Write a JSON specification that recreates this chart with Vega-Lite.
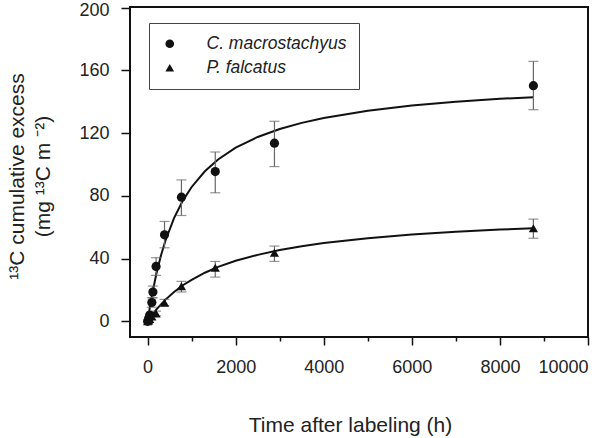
{
  "$schema": "https://vega.github.io/schema/vega-lite/v6.json",
  "autosize": "none",
  "width": 458,
  "height": 330,
  "padding": {"left": 130, "top": 7, "right": 23, "bottom": 101},
  "background": "white",
  "config": {
    "view": {"stroke": "#111", "strokeWidth": 2},
    "axis": {
      "domain": false, "grid": false, "tickColor": "#111", "tickWidth": 1.5,
      "labelFont": "Liberation Sans", "labelFontSize": 18, "labelColor": "#222",
      "titleFont": "Liberation Sans", "titleFontSize": 21, "titleFontWeight": "normal", "titleColor": "#222"
    }
  },
  "datasets": {
    "pts": [
      {"series": "C. macrostachyus", "t": 0, "v": 0, "lo": null, "hi": null},
      {"series": "C. macrostachyus", "t": 24, "v": 2, "lo": null, "hi": null},
      {"series": "C. macrostachyus", "t": 48, "v": 4, "lo": null, "hi": null},
      {"series": "C. macrostachyus", "t": 96, "v": 12, "lo": 9, "hi": 15},
      {"series": "C. macrostachyus", "t": 120, "v": 18.7, "lo": 15, "hi": 22.5},
      {"series": "C. macrostachyus", "t": 192, "v": 35, "lo": 29.3, "hi": 40.6},
      {"series": "C. macrostachyus", "t": 384, "v": 55.2, "lo": 46.9, "hi": 63.7},
      {"series": "C. macrostachyus", "t": 768, "v": 79.2, "lo": 67.5, "hi": 90.2},
      {"series": "C. macrostachyus", "t": 1536, "v": 95.5, "lo": 82, "hi": 108},
      {"series": "C. macrostachyus", "t": 2880, "v": 113.6, "lo": 98.7, "hi": 127.6},
      {"series": "C. macrostachyus", "t": 8760, "v": 150.3, "lo": 135, "hi": 165.8},
      {"series": "P. falcatus", "t": 0, "v": 0, "lo": null, "hi": null},
      {"series": "P. falcatus", "t": 24, "v": 0.5, "lo": null, "hi": null},
      {"series": "P. falcatus", "t": 48, "v": 1.5, "lo": null, "hi": null},
      {"series": "P. falcatus", "t": 96, "v": 3, "lo": null, "hi": null},
      {"series": "P. falcatus", "t": 192, "v": 5, "lo": 3.5, "hi": 6.5},
      {"series": "P. falcatus", "t": 384, "v": 11.9, "lo": 10, "hi": 14},
      {"series": "P. falcatus", "t": 768, "v": 22.3, "lo": 18.7, "hi": 25.5},
      {"series": "P. falcatus", "t": 1536, "v": 34.2, "lo": 28.2, "hi": 38.2},
      {"series": "P. falcatus", "t": 2880, "v": 43.7, "lo": 38.2, "hi": 48},
      {"series": "P. falcatus", "t": 8760, "v": 59.4, "lo": 53, "hi": 65.2}
    ],
    "fit": [
      {"series": "C. macrostachyus", "t": 0, "v": 0},
      {"series": "C. macrostachyus", "t": 50, "v": 8.9},
      {"series": "C. macrostachyus", "t": 100, "v": 16.9},
      {"series": "C. macrostachyus", "t": 200, "v": 30.5},
      {"series": "C. macrostachyus", "t": 300, "v": 41.7},
      {"series": "C. macrostachyus", "t": 400, "v": 51.1},
      {"series": "C. macrostachyus", "t": 600, "v": 65.8},
      {"series": "C. macrostachyus", "t": 800, "v": 77.0},
      {"series": "C. macrostachyus", "t": 1000, "v": 85.7},
      {"series": "C. macrostachyus", "t": 1300, "v": 95.7},
      {"series": "C. macrostachyus", "t": 1600, "v": 103.2},
      {"series": "C. macrostachyus", "t": 2000, "v": 110.8},
      {"series": "C. macrostachyus", "t": 2500, "v": 117.6},
      {"series": "C. macrostachyus", "t": 3000, "v": 122.7},
      {"series": "C. macrostachyus", "t": 3500, "v": 126.6},
      {"series": "C. macrostachyus", "t": 4000, "v": 129.7},
      {"series": "C. macrostachyus", "t": 5000, "v": 134.3},
      {"series": "C. macrostachyus", "t": 6000, "v": 137.6},
      {"series": "C. macrostachyus", "t": 7000, "v": 140.0},
      {"series": "C. macrostachyus", "t": 8000, "v": 141.9},
      {"series": "C. macrostachyus", "t": 8760, "v": 143.0},
      {"series": "P. falcatus", "t": 0, "v": 0},
      {"series": "P. falcatus", "t": 100, "v": 4.0},
      {"series": "P. falcatus", "t": 200, "v": 7.6},
      {"series": "P. falcatus", "t": 400, "v": 13.7},
      {"series": "P. falcatus", "t": 600, "v": 18.7},
      {"series": "P. falcatus", "t": 800, "v": 23.0},
      {"series": "P. falcatus", "t": 1000, "v": 26.5},
      {"series": "P. falcatus", "t": 1300, "v": 31.0},
      {"series": "P. falcatus", "t": 1600, "v": 34.7},
      {"series": "P. falcatus", "t": 2000, "v": 38.6},
      {"series": "P. falcatus", "t": 2500, "v": 42.4},
      {"series": "P. falcatus", "t": 3000, "v": 45.5},
      {"series": "P. falcatus", "t": 3500, "v": 47.9},
      {"series": "P. falcatus", "t": 4000, "v": 49.9},
      {"series": "P. falcatus", "t": 5000, "v": 53.0},
      {"series": "P. falcatus", "t": 6000, "v": 55.4},
      {"series": "P. falcatus", "t": 7000, "v": 57.1},
      {"series": "P. falcatus", "t": 8000, "v": 58.5},
      {"series": "P. falcatus", "t": 8760, "v": 59.4}
    ]
  },
  "layer": [
    {
      "data": {"name": "fit"},
      "mark": {"type": "line", "color": "#111", "strokeWidth": 2},
      "encoding": {
        "x": {
          "field": "t", "type": "quantitative",
          "scale": {"domain": [-400, 10000], "nice": false, "zero": false},
          "axis": {
            "values": [0, 1000, 2000, 3000, 4000, 5000, 6000, 7000, 8000, 9000, 10000],
            "format": "d",
            "labelExpr": "datum.value % 2000 === 0 ? datum.label : ''",
            "tickSize": {"condition": {"test": "datum.value % 2000 === 0", "value": 8}, "value": 4},
            "labelPadding": 13,
            "title": "Time after labeling (h)",
            "titleX": 220, "titleY": 77, "titleBaseline": "top", "titleAnchor": "middle", "titleAlign": "center"
          }
        },
        "y": {
          "field": "v", "type": "quantitative",
          "scale": {"domain": [-10, 200.5], "nice": false, "zero": false},
          "axis": {
            "values": [0, 20, 40, 60, 80, 100, 120, 140, 160, 180, 200],
            "labelExpr": "datum.value % 40 === 0 ? datum.label : ''",
            "tickSize": {"condition": {"test": "datum.value % 40 === 0", "value": 9}, "value": 5},
            "labelOffset": {"condition": {"test": "datum.value === 200", "value": 2.5}, "value": 0},
            "labelPadding": 12,
            "title": ["¹³C cumulative excess", "\u00a0\u00a0\u00a0\u00a0\u00a0(mg  ¹³C m ⁻²)"],
            "titleAngle": 270, "titleBaseline": "alphabetic", "titleAlign": "center", "titleAnchor": "middle",
            "titleX": -107, "titleY": 169, "titleLineHeight": 26
          }
        },
        "detail": {"field": "series"}
      }
    },
    {
      "data": {"name": "pts"},
      "transform": [{"filter": "datum.hi != null"}],
      "mark": {"type": "rule", "color": "#666", "strokeWidth": 1.2},
      "encoding": {
        "x": {"field": "t", "type": "quantitative"},
        "y": {"field": "lo", "type": "quantitative"},
        "y2": {"field": "hi"}
      }
    },
    {
      "data": {"name": "pts"},
      "transform": [{"filter": "datum.hi != null"}],
      "mark": {"type": "tick", "orient": "horizontal", "color": "#666", "size": 10, "thickness": 1.2},
      "encoding": {
        "x": {"field": "t", "type": "quantitative"},
        "y": {"field": "hi", "type": "quantitative"}
      }
    },
    {
      "data": {"name": "pts"},
      "transform": [{"filter": "datum.hi != null"}],
      "mark": {"type": "tick", "orient": "horizontal", "color": "#666", "size": 10, "thickness": 1.2},
      "encoding": {
        "x": {"field": "t", "type": "quantitative"},
        "y": {"field": "lo", "type": "quantitative"}
      }
    },
    {
      "data": {"name": "pts"},
      "mark": {"type": "point", "filled": true, "color": "#111", "size": 85, "opacity": 1},
      "encoding": {
        "x": {"field": "t", "type": "quantitative"},
        "y": {"field": "v", "type": "quantitative"},
        "shape": {
          "field": "series", "type": "nominal",
          "scale": {"domain": ["C. macrostachyus", "P. falcatus"], "range": ["circle", "triangle-up"]},
          "legend": {
            "title": null, "orient": "none", "legendX": 19, "legendY": 16,
            "strokeColor": "#444", "fillColor": "white", "padding": 12,
            "labelFont": "Liberation Sans", "labelFontSize": 17.5, "labelFontStyle": "italic", "labelColor": "#222",
            "labelOffset": 28, "rowPadding": 5, "symbolSize": 75,
            "labelExpr": "datum.label + '\u00a0\u00a0\u00a0\u00a0\u00a0\u00a0\u00a0\u00a0\u00a0\u00a0'"
          }
        }
      }
    }
  ]
}
